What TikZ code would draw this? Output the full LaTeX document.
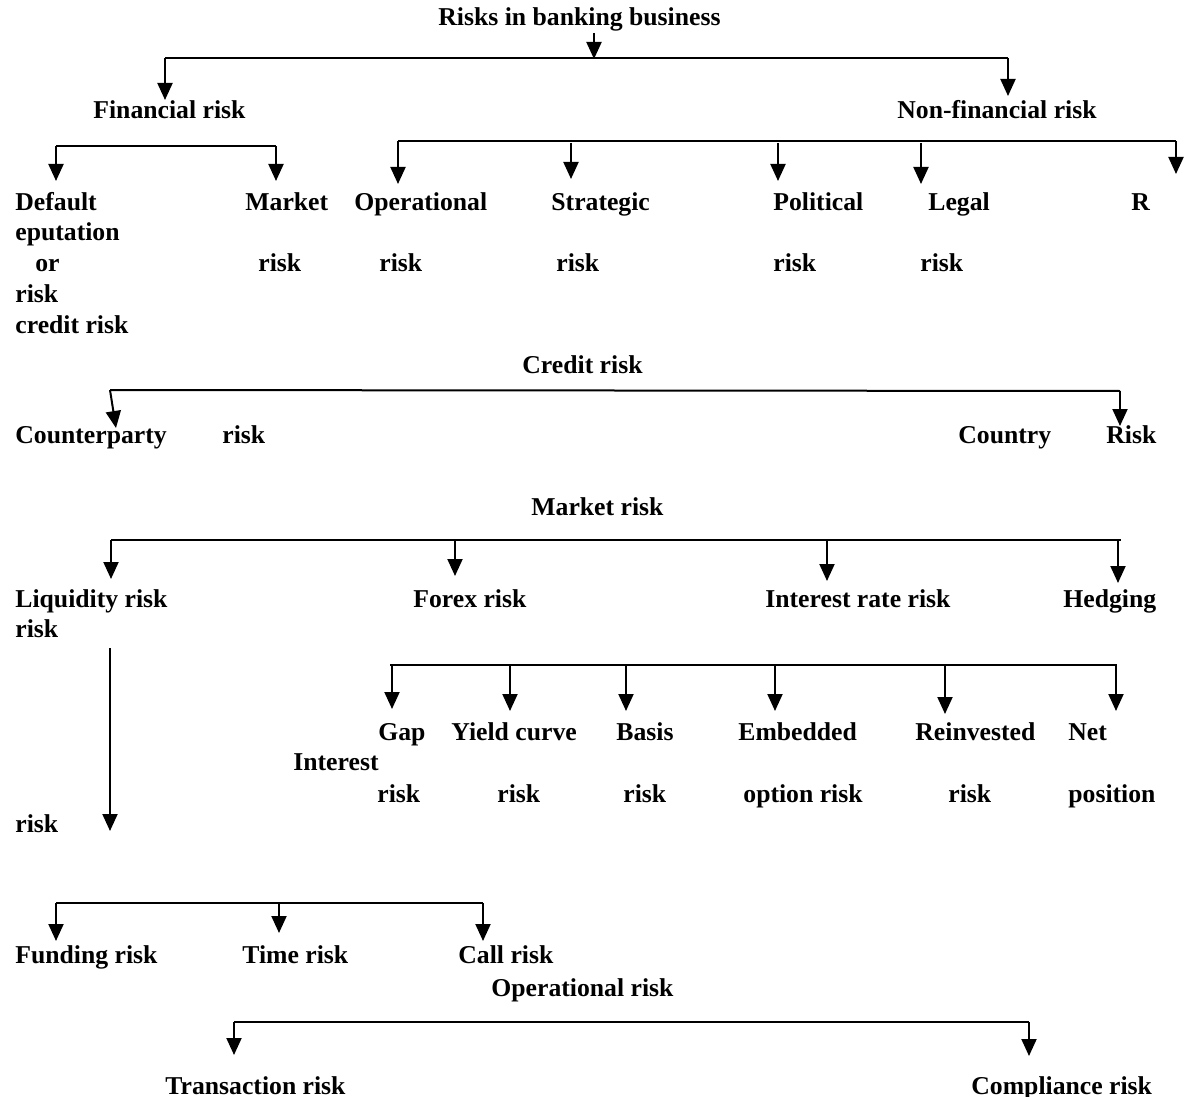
\documentclass[tikz,border=0pt]{standalone}
\usepackage{fontspec}
\setmainfont{Liberation Serif}
\usetikzlibrary{arrows.meta}

\begin{document}
\begin{tikzpicture}[x=0.5pt, y=-0.5pt,
  lbl/.style={anchor=base west, inner sep=0pt, font=\fontsize{12.85}{15}\bfseries\selectfont},
  bus/.style={line width=1pt},
  arr/.style={line width=1pt, -{Triangle[length=8.5pt,width=7.5pt]}}]
\useasboundingbox (0,0) rectangle (1185,1097);

% top level
\node[lbl] (top) at (438,26) {Risks in banking business};
\node[lbl] (fin) at (93,119) {Financial risk};
\node[lbl] (nonfin) at (897,119) {Non-financial risk};
\coordinate (top-l) at (165,58);
\coordinate (top-r) at (1008,58);
\draw[bus] (top-l) -- (top-r);
\draw[arr] (594,33) -- (594,59);
\draw[arr] (top-l) -- (165,100);
\draw[arr] (top-r) -- (1008,96);

% financial / non-financial
\coordinate (fin-l) at (56,146);
\coordinate (fin-r) at (276,146);
\draw[bus] (fin-l) -- (fin-r);
\draw[arr] (fin-l) -- (56,181);
\draw[arr] (fin-r) -- (276,181);
\coordinate (nf-l) at (398,141);
\coordinate (nf-r) at (1176,141);
\draw[bus] (nf-l) -- (nf-r);
\draw[arr] (nf-l) -- (398,184);
\draw[arr] (nf-r) -- (1176,174);
\foreach \x/\y in {571/179, 778/181, 921/184}
  \draw[arr] (\x,143) -- (\x,\y);

\node[lbl] (default) at (15,211) {Default};
\node[lbl] (market) at (245,211) {Market};
\node[lbl] (oper) at (354,211) {Operational};
\node[lbl] (strat) at (551,211) {Strategic};
\node[lbl] (polit) at (773,211) {Political};
\node[lbl] (legal) at (928,211) {Legal};
\node[lbl] (rep) at (1131,211) {R};
\node[lbl] (eput) at (15,241) {eputation};
\node[lbl] (or) at (35,271) {or};
\node[lbl] (market-r) at (258,271) {risk};
\node[lbl] (oper-r) at (379,271) {risk};
\node[lbl] (strat-r) at (556,271) {risk};
\node[lbl] (polit-r) at (773,271) {risk};
\node[lbl] (legal-r) at (920,271) {risk};
\node[lbl] (default-r) at (15,302) {risk};
\node[lbl] (default-c) at (15,333) {credit risk};

% credit risk
\node[lbl] (credit) at (522,373) {Credit risk};
\coordinate (cr-l) at (110,390);
\coordinate (cr-r) at (1120,391);
\draw[bus] (cr-l) -- (cr-r);
\draw[arr] (cr-l) -- (116,428);
\draw[arr] (cr-r) -- (1120,426);
\node[lbl] (counter) at (15,443) {Counterparty};
\node[lbl] (counter-r) at (222,443) {risk};
\node[lbl] (country) at (958,443) {Country};
\node[lbl] (country-r) at (1106,443) {Risk};

% market risk
\node[lbl] (mkt) at (531,515) {Market risk};
\coordinate (mk-l) at (111,540);
\coordinate (mk-r) at (1121,540);
\draw[bus] (mk-l) -- (mk-r);
\draw[arr] (mk-l) -- (111,579);
\foreach \x/\y in {455/576, 827/581, 1118/583}
  \draw[arr] (\x,540) -- (\x,\y);
\node[lbl] (liq) at (15,607) {Liquidity risk};
\node[lbl] (forex) at (413,607) {Forex risk};
\node[lbl] (irr) at (765,607) {Interest rate risk};
\node[lbl] (hedge) at (1063,607) {Hedging};
\node[lbl] (liq-r) at (15,637) {risk};
\draw[arr] (110,648) -- (110,831);

% interest rate risk
\coordinate (ir-l) at (390,665);
\coordinate (ir-r) at (1117,665);
\draw[bus] (ir-l) -- (ir-r);
\foreach \x/\y in {392/709, 510/711, 626/711, 775/711, 945/714, 1116/711}
  \draw[arr] (\x,665) -- (\x,\y);
\node[lbl] (gap) at (378,740) {Gap};
\node[lbl] (yield) at (451,740) {Yield curve};
\node[lbl] (basis) at (616,740) {Basis};
\node[lbl] (embed) at (738,740) {Embedded};
\node[lbl] (reinv) at (915,740) {Reinvested};
\node[lbl] (net) at (1068,740) {Net};
\node[lbl] (interest) at (293,770) {Interest};
\node[lbl] (gap-r) at (377,802) {risk};
\node[lbl] (yield-r) at (497,802) {risk};
\node[lbl] (basis-r) at (623,802) {risk};
\node[lbl] (embed-r) at (743,802) {option risk};
\node[lbl] (reinv-r) at (948,802) {risk};
\node[lbl] (net-r) at (1068,802) {position};
\node[lbl] (risk-l) at (15,832) {risk};

% liquidity risk
\coordinate (lq-l) at (56,903);
\coordinate (lq-r) at (483,903);
\draw[bus] (lq-l) -- (lq-r);
\draw[arr] (lq-l) -- (56,941);
\draw[arr] (279,903) -- (279,933);
\draw[arr] (lq-r) -- (483,941);
\node[lbl] (fund) at (15,963) {Funding risk};
\node[lbl] (time) at (242,963) {Time risk};
\node[lbl] (call) at (458,963) {Call risk};

% operational risk
\node[lbl] (opr) at (491,996) {Operational risk};
\coordinate (op-l) at (234,1022);
\coordinate (op-r) at (1029,1022);
\draw[bus] (op-l) -- (op-r);
\draw[arr] (op-l) -- (234,1055);
\draw[arr] (op-r) -- (1029,1056);
\node[lbl] (trans) at (165,1094) {Transaction risk};
\node[lbl] (compl) at (971,1094) {Compliance risk};
\end{tikzpicture}
\end{document}
